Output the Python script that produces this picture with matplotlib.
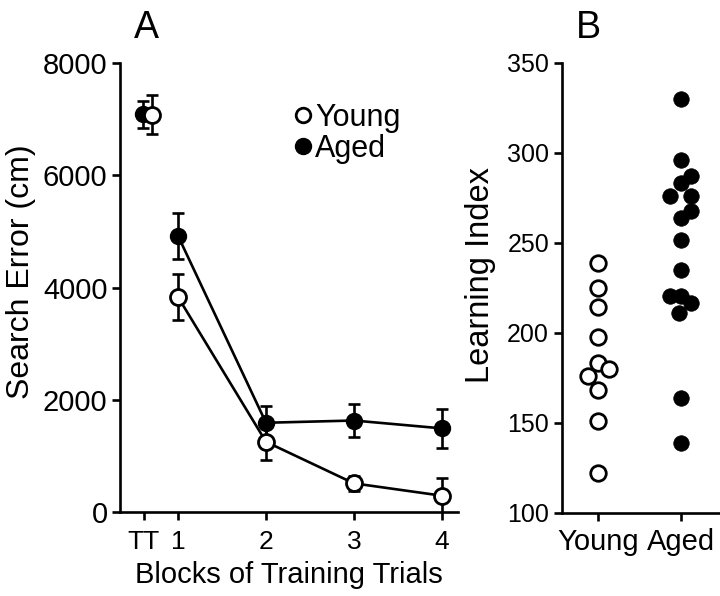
import matplotlib as mpl
import matplotlib.pyplot as plt
from matplotlib.lines import Line2D

mpl.use("Agg")

plt.rcParams["font.family"] = ["Liberation Sans", "DejaVu Sans"]
plt.rcParams["font.size"] = 19

# panel A: search error per block
block_pos = [1, 2, 3, 4]
block_labels = ["TT", "1", "2", "3", "4"]
tt_pos = 0.61
young_tt, young_tt_err = 7080, 350
aged_tt, aged_tt_err = 7090, 240
young_mean = [3830, 1250, 510, 290]
young_err = [415, 320, 130, 310]
aged_mean = [4920, 1590, 1630, 1490]
aged_err = [410, 290, 290, 350]

# panel B: learning index per rat
groups = ["Young", "Aged"]
young_li = [238.6, 224.7, 214.1, 197.8, 183.0, 175.9, 179.7, 168.2, 150.6, 122.2]
young_jit = [0, 0, 0, 0, 0, -0.12, 0.13, 0, 0, 0]
aged_li = [329.8, 295.6, 287.1, 283.0, 275.9, 275.9, 267.8, 263.6, 251.5, 234.8,
           220.4, 220.4, 216.7, 210.8, 163.6, 138.9]
aged_jit = [0, 0, 0.13, 0, -0.13, 0.13, 0.13, 0, 0, 0,
            -0.13, 0, 0.13, -0.02, 0, 0]

fig = plt.figure(figsize=(7.2, 5.96), dpi=100)
axA = fig.add_axes([0.1667, 0.141, 0.469, 0.753])
axB = fig.add_axes([0.780, 0.140, 0.2199, 0.755])

lw = 1.9
for ax in (axA, axB):
    for s in ("top", "right"):
        ax.spines[s].set_visible(False)
    for s in ("left", "bottom"):
        ax.spines[s].set_linewidth(lw)
    ax.tick_params(width=lw, length=6, direction="out", pad=3)

ebkw = dict(ecolor="black", elinewidth=lw, capsize=4, capthick=lw, zorder=2)
axA.errorbar(block_pos, aged_mean, yerr=aged_err, fmt="none", **ebkw)
axA.errorbar(block_pos, young_mean, yerr=young_err, fmt="none", **ebkw)
axA.errorbar([tt_pos - 0.01], [aged_tt], yerr=[aged_tt_err], fmt="none", **ebkw)
axA.errorbar([tt_pos + 0.09], [young_tt], yerr=[young_tt_err], fmt="none", **ebkw)

ms = 11.5
axA.plot(block_pos, aged_mean, "-o", color="black", lw=lw, ms=ms,
         mfc="black", mec="black", zorder=3)
axA.plot(block_pos, young_mean, "-o", color="black", lw=lw, ms=ms,
         mfc="white", mec="black", mew=2, zorder=4)
axA.plot([tt_pos - 0.01], [aged_tt], "o", ms=ms, mfc="black", mec="black", zorder=3)
axA.plot([tt_pos + 0.09], [young_tt], "o", ms=ms, mfc="white", mec="black",
         mew=2, zorder=4)

axA.set_xlim(0.34, 4.18)
axA.set_ylim(0, 8000)
axA.set_xticks([tt_pos] + block_pos)
axA.set_xticklabels(block_labels)
axA.set_yticks([0, 2000, 4000, 6000, 8000])
axA.tick_params(axis="y", labelsize=21)
axA.tick_params(axis="x", labelsize=19, pad=7)
axA.set_xlabel("Blocks of Training Trials", fontsize=21, labelpad=5)
axA.set_ylabel("Search Error (cm)", fontsize=23)
axA.yaxis.set_label_coords(-0.25, 0.536)
axA.set_title("A", fontsize=27, loc="left", x=0.04, pad=18)

handles = [Line2D([], [], ls="none", marker="o", ms=10.5, mfc="white", mec="black", mew=2),
           Line2D([], [], ls="none", marker="o", ms=11.5, mfc="black", mec="black")]
axA.legend(handles, ["Young", "Aged"], loc="upper left", bbox_to_anchor=(0.47, 0.945),
           frameon=False, handlelength=0.6, handletextpad=0.1, labelspacing=0.02,
           fontsize=22, borderpad=0)

axB.scatter([0 + j for j in young_jit], young_li, s=125, facecolors="white",
            edgecolors="black", linewidths=2, zorder=3, clip_on=False)
axB.scatter([1 + j for j in aged_jit], aged_li, s=125, facecolors="black",
            edgecolors="black", linewidths=0.5, zorder=3, clip_on=False)
axB.set_xlim(-0.44, 1.474)
axB.set_ylim(100, 350)
axB.set_xticks([0, 1])
axB.set_xticklabels(groups)
axB.set_yticks([100, 150, 200, 250, 300, 350])
axB.tick_params(axis="y", labelsize=18)
axB.tick_params(axis="x", labelsize=21, pad=5)
axB.set_ylabel("Learning Index", fontsize=23.5)
axB.yaxis.set_label_coords(-0.415, 0.527)
axB.set_title("B", fontsize=27, loc="left", x=0.09, pad=18)

fig.savefig("out.png", dpi=100)
